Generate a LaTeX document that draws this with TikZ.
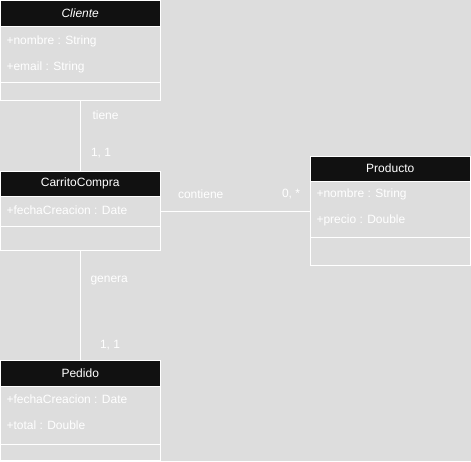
\documentclass[tikz,border=0pt]{standalone}
\usepackage{fontspec}
\setmainfont{Liberation Sans}
\definecolor{bggray}{HTML}{DDDDDD}
\definecolor{headblack}{HTML}{111111}

\begin{document}
\begin{tikzpicture}[x=1pt, y=-1pt, line width=1pt,
        every node/.style={font=\fontsize{12}{14}\selectfont, text=white},
        head/.style={draw=white, fill=headblack, anchor=north west, minimum width=159.5pt, inner sep=0pt, outer sep=0pt},
        comp/.style={draw=white, anchor=north west, minimum width=159.5pt, inner sep=0pt, outer sep=0pt},
        attr/.style={anchor=west, inner sep=0pt},
        lbl/.style={anchor=west, inner sep=0pt},
        conn/.style={draw=white}]

        % Background
        \fill[bggray] (0,0) rectangle (471,461);
        \useasboundingbox (0,0) rectangle (471,461);

        % Cliente
        \node[head, minimum height=26pt] (cliH) at (0.5,0.5) {\textit{Cliente}};
        \node[comp, minimum height=56pt] (cliA) at (cliH.south west) {};
        \node[comp, minimum height=18pt] (cliM) at (cliA.south west) {};
        \node[attr] (cliA1) at ([shift={(5.5,14.5)}]cliA.north west) {+nombre : String};
        \node[attr] (cliA2) at ([shift={(5.5,40.5)}]cliA.north west) {+email : String};

        % CarritoCompra
        \node[head, minimum height=25pt] (carH) at (0.5,171) {CarritoCompra};
        \node[comp, minimum height=30pt] (carA) at (carH.south west) {};
        \node[comp, minimum height=24pt] (carM) at (carA.south west) {};
        \node[attr] (carA1) at ([shift={(5.5,14.5)}]carA.north west) {+fechaCreacion : Date};

        % Producto
        \node[head, minimum height=25pt] (proH) at (310.5,156) {Producto};
        \node[comp, minimum height=56pt] (proA) at (proH.south west) {};
        \node[comp, minimum height=28pt] (proM) at (proA.south west) {};
        \node[attr] (proA1) at ([shift={(5.5,13.5)}]proA.north west) {+nombre : String};
        \node[attr] (proA2) at ([shift={(5.5,39.5)}]proA.north west) {+precio : Double};

        % Pedido
        \node[head, minimum height=26pt] (pedH) at (0.5,360) {Pedido};
        \node[comp, minimum height=58pt] (pedA) at (pedH.south west) {};
        \node[comp, minimum height=16pt] (pedM) at (pedA.south west) {};
        \node[attr] (pedA1) at ([shift={(5.5,13.5)}]pedA.north west) {+fechaCreacion : Date};
        \node[attr] (pedA2) at ([shift={(5.5,39.5)}]pedA.north west) {+total : Double};

        % Associations
        \draw[conn] (cliM.south) -- (carH.north);
        \draw[conn] (carA.east) -- (carA.east -| proA.west);
        \draw[conn] (carM.south) -- (pedH.north);

        % Association labels
        \foreach \n/\x/\y/\txt in {tiene/92/115.5/tiene, cliCard/90.5/153.5/{1, 1},
                contiene/177.5/194.5/contiene, proCard/281.5/194.5/{0, *},
                genera/90/280.5/genera, pedCard/99.5/345.5/{1, 1}}{
            \node[lbl] (\n) at (\x,\y) {\txt};
        }
    \end{tikzpicture}
\end{document}
